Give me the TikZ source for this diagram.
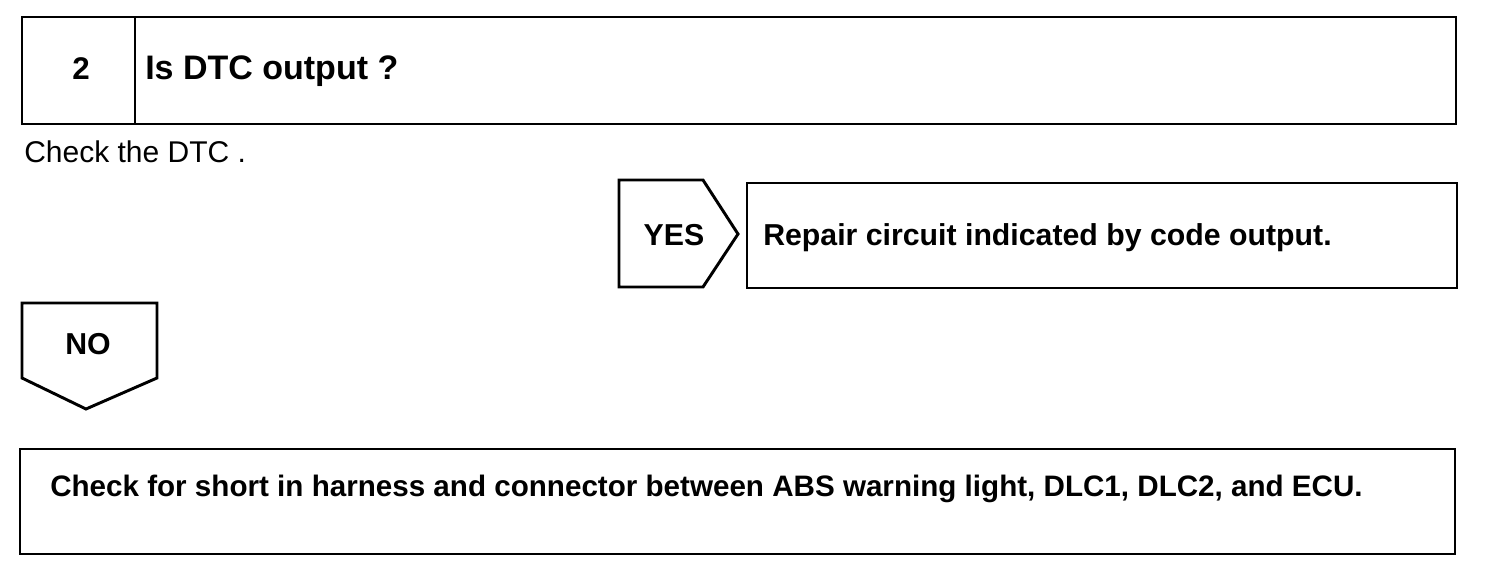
\documentclass[tikz,border=0pt]{standalone}
\usepackage{fontspec}
\setmainfont{Liberation Sans}
\begin{document}
\begin{tikzpicture}[x=0.75pt,y=-0.75pt,
  frame/.style={draw=black, line width=2.2pt, line join=miter},
  txt/.style={anchor=base west, inner sep=0pt, text=black},
  ctxt/.style={anchor=base, inner sep=0pt, text=black},
  big/.style={font=\fontsize{25.5}{30}\selectfont\bfseries},
  mid/.style={font=\fontsize{22.7}{27}\selectfont\bfseries},
  low/.style={font=\fontsize{22.2}{27}\selectfont\bfseries},
  num/.style={font=\fontsize{23.5}{28}\selectfont\bfseries},
  plain/.style={font=\fontsize{22.5}{26}\selectfont}]
\useasboundingbox (0,0) rectangle (1504,582);
\fill[white] (0,0) rectangle (1504,582);
% title box
\draw[frame] (22,17) rectangle (1456,124);
\draw[frame] (135,17) -- (135,124);
\node[ctxt, num] (stepno) at (81,79) {2};
\node[txt, big] (question) at (145,79) {Is DTC output ?};
\node[txt, plain] (checkdtc) at (24,162) {Check the DTC .};
% YES arrow box
\draw[frame] (619,180) -- (703,180) -- (738,234) -- (703,287) -- (619,287) -- cycle;
\node[ctxt, mid] (yes) at (674,245) {YES};
% repair box
\draw[frame] (747,183) rectangle (1457,288);
\node[txt, mid] (repair) at (763,245) {Repair circuit indicated by code output.};
% NO arrow box
\draw[frame] (22,303) -- (157,303) -- (157,378) -- (86,409) -- (22,378) -- cycle;
\node[ctxt, mid] (no) at (88,354) {NO};
% bottom box
\draw[frame] (20,449) rectangle (1455,554);
\node[txt, low] (shortcheck) at (50,496) {Check for short in harness and connector between ABS warning light, DLC1, DLC2, and ECU.};
\end{tikzpicture}
\end{document}
